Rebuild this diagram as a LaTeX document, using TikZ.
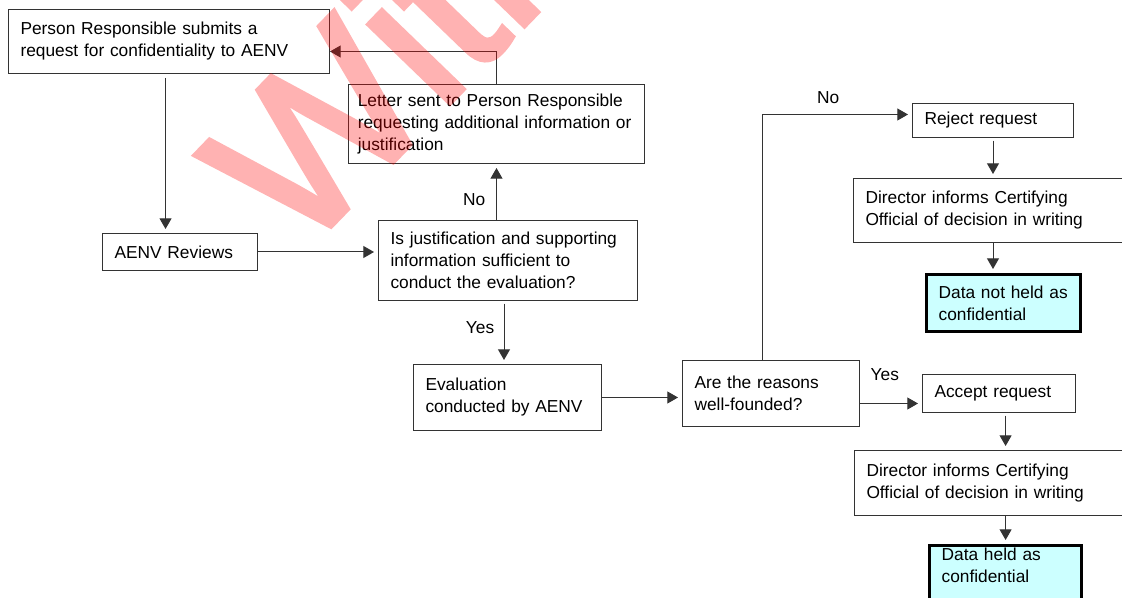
\documentclass[tikz,border=0pt]{standalone}
\usepackage{fontspec}
\setmainfont{Liberation Sans}
\newfontfamily\stampfont[FakeBold=2.5]{Liberation Sans}
\usetikzlibrary{positioning,arrows.meta}
\definecolor{paleaqua}{HTML}{CCFFFF}
\definecolor{linegray}{HTML}{333333}
\tikzset{
  box/.style={draw=linegray,line width=0.75pt,align=left,inner xsep=9pt,inner ysep=3pt,
    font=\fontsize{13}{16.5}\selectfont},
  final/.style={box,draw=black,line width=2.4pt,fill=paleaqua},
  arr/.style={draw=linegray,line width=0.75pt,-{Triangle[length=8pt,width=9pt]},shorten >=3pt},
  lbl/.style={font=\fontsize{13}{16.5}\selectfont,inner sep=2pt},
  wmark/.style={text=red,inner sep=0pt,font=\stampfont\fontsize{160}{160}\selectfont}
}

\begin{document}
\begin{tikzpicture}[x=0.75pt,y=-0.75pt]
    \useasboundingbox (0,0) rectangle (1122,598);
    \clip (0,0) rectangle (1122,598);
    \node[box,anchor=north west,text width=222.75pt,minimum height=48pt] (request) at (8,9) {Person Responsible submits a\\request for confidentiality to AENV};
    \node[box,below right=56.25pt and 13.5pt of request.north east,inner xsep=7pt,text width=208pt,minimum height=59.25pt] (letter) {Letter sent to Person Responsible\\requesting additional information or\\justification};
    \node[box,below right=119.25pt and 70.5pt of request.south west,text width=98.25pt,minimum height=27.75pt] (aenv) {AENV Reviews};
    \node[box,below right=42pt and 22.5pt of letter.south west,text width=176.25pt,minimum height=60pt] (suff) {Is justification and supporting\\information sufficient to\\conduct the evaluation?};
    \node[box,below right=47.25pt and 26.25pt of suff.south west,text width=123pt,minimum height=49.5pt] (eval) {Evaluation\\conducted by AENV};
    \node[box,right=60pt of eval.north east,anchor=north west,yshift=3pt,text width=114.75pt,minimum height=49.5pt] (reasons) {Are the reasons\\well-founded?};
    \node[box,right=39pt of reasons.north east,anchor=north west,yshift=192.75pt,text width=102.75pt,minimum height=25.5pt] (reject) {Reject request};
    \node[box,below=30pt of reject.south west,anchor=north west,xshift=-44.25pt,text width=191.25pt,minimum height=48pt] (director1) {Director informs Certifying\\Official of decision in writing};
    \node[final,below right=22.5pt and 54pt of director1.south west,text width=97.5pt,minimum height=42.75pt] (dnh) {Data not held as\\confidential};
    \node[box,below right=10.5pt and 46.5pt of reasons.north east,text width=96.75pt,minimum height=28.5pt] (accept) {Accept request};
    \node[box,below=27.75pt of accept.south west,anchor=north west,xshift=-51pt,text width=191.25pt,minimum height=48.75pt] (director2) {Director informs Certifying\\Official of decision in writing};
    \node[final,below right=21pt and 55.5pt of director2.south west,text width=96pt,inner ysep=1.5pt,text depth=60pt] (dh) {Data held as\\confidential};
    \draw[arr,shorten <=3pt] ([xshift=-2.6pt]request.south) -- ([xshift=-2.6pt]request.south |- aenv.north);
    \draw[arr] (aenv.east) -- (aenv.east -| suff.west);
    \draw[arr] (suff.north -| letter.south) -- node[lbl,pos=0.36,left=6pt] {No} (letter.south);
    \draw[arr,shorten >=0pt] (letter.north) |- ([yshift=-7.5pt]request.east);
    \draw[arr,shorten <=2pt] ([xshift=-3pt]suff.south) -- node[lbl,pos=0.43,left=5pt] {Yes} ([xshift=-3pt]suff.south |- eval.north);
    \draw[arr] (eval.east) -- (eval.east -| reasons.west);
    \draw[arr] ([xshift=-6.4pt]reasons.north) |- node[lbl,pos=0.72,above=6pt] {No} ([yshift=4.5pt]reject.west);
    \draw[arr] ([yshift=-7.5pt]reasons.east) -- node[lbl,pos=0.4,above=15pt] {Yes} ([yshift=-7.5pt]reasons.east -| accept.west);
    \draw[arr,shorten <=2pt] (reject.south) -- (reject.south |- director1.north);
    \draw[arr] (reject.south |- director1.south) -- (reject.south |- dnh.north);
    \draw[arr,shorten <=2pt] (accept.south -| dh.north) -- (dh.north |- director2.north);
    \draw[arr] (dh.north |- director2.south) -- (dh.north);
    \begin{scope}[transparency group,opacity=0.3]
      \node[wmark,rotate=46,anchor=base west] (stamp) at (300,258) {Withdrawn};
    \end{scope}
\end{tikzpicture}
\end{document}
